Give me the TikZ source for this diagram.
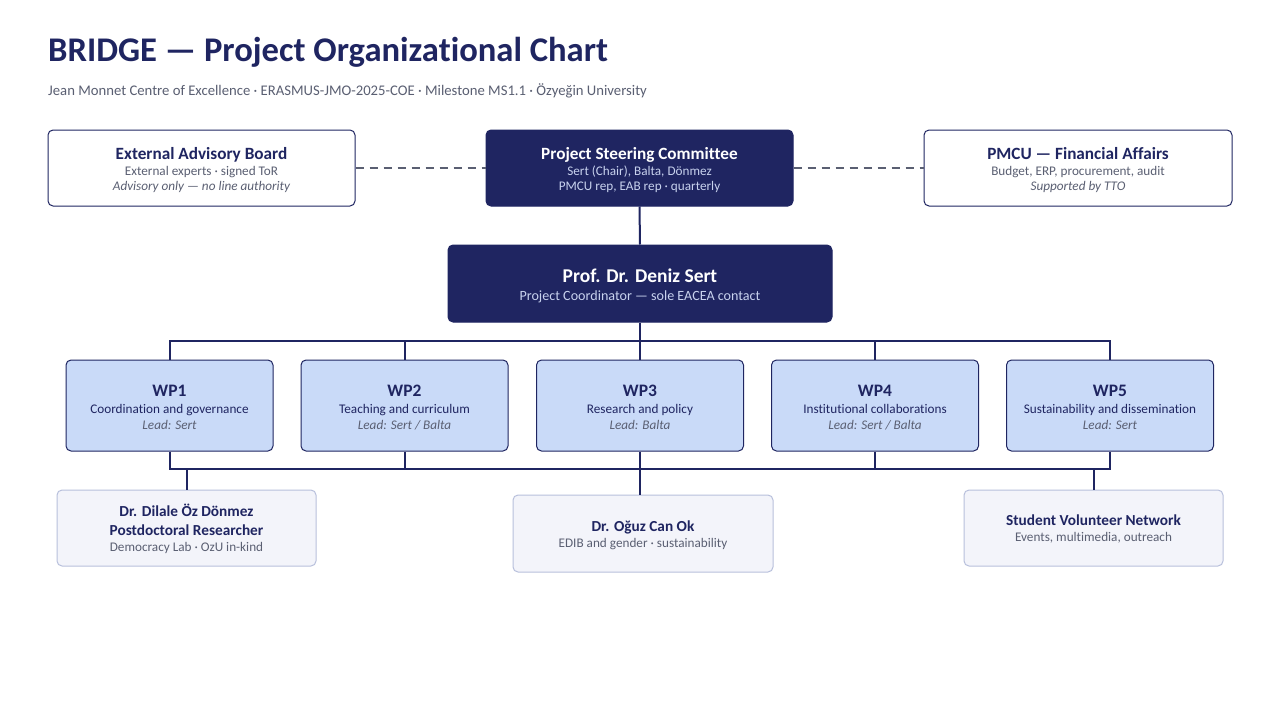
\documentclass[tikz,border=0pt]{standalone}
\usepackage{fontspec}
\setmainfont{Carlito}[Ligatures=NoCommon]
\usetikzlibrary{calc}
\definecolor{navy}{HTML}{1F2561}
\definecolor{wpfill}{HTML}{C9DAF8}
\definecolor{stafffill}{HTML}{F3F4FA}
\definecolor{staffline}{HTML}{B8C0DC}
\definecolor{subgray}{HTML}{5A5F72}
\definecolor{paletext}{HTML}{C8D2EE}
\tikzset{
  box/.style={rectangle, rounded corners=5pt, line width=1pt, inner sep=0pt},
  outerbox/.style={box, draw=navy, fill=white, minimum width=307pt, minimum height=76pt},
  navybox/.style={box, draw=navy, fill=navy},
  wpbox/.style={box, draw=navy, fill=wpfill, minimum width=207pt, minimum height=91pt},
  staffbox/.style={box, draw=staffline, fill=stafffill, minimum width=259pt, minimum height=76pt},
  txt/.style={inner sep=0pt, anchor=base},
  ttl/.style={txt, text=navy, font=\fontsize{17.2}{20}\selectfont\bfseries},
  sub/.style={txt, text=subgray, font=\fontsize{13.2}{16}\selectfont},
  subi/.style={txt, text=subgray, font=\fontsize{13.2}{16}\selectfont\itshape},
  stafft/.style={ttl, font=\fontsize{15.3}{18}\selectfont\bfseries},
  conn/.style={draw=navy, line width=2pt},
  dashconn/.style={draw=subgray, line width=2pt, dash pattern=on 8pt off 6pt},
}
\begin{document}
\begin{tikzpicture}[x=1pt,y=-1pt]
\useasboundingbox[fill=white] (0,0) rectangle (1280,720);
% title
\node[inner sep=0pt, anchor=base west, text=navy, font=\fontsize{34.6}{40}\selectfont\bfseries] (title) at (48,61) {BRIDGE — Project Organizational Chart};
\node[inner sep=0pt, anchor=base west, text=subgray, font=\fontsize{14.7}{18}\selectfont] (subtitle) at (48,95) {Jean Monnet Centre of Excellence · ERASMUS-JMO-2025-COE · Milestone MS1.1 · Özyeğin University};
% top row
\node[outerbox] (eab) at (201.5,168) {};
\node[ttl] (eabT) at (201.5,159) {External Advisory Board};
\node[sub] (eabS) at (201.5,175.5) {External experts · signed ToR};
\node[subi] (eabI) at (201.5,190.5) {Advisory only — no line authority};

\node[navybox, minimum width=307pt, minimum height=76pt] (psc) at (639.5,168) {};
\node[ttl, text=white] (pscT) at (639.5,159) {Project Steering Committee};
\node[sub, text=paletext] (pscS) at (639.5,175.5) {Sert (Chair), Balta, Dönmez};
\node[sub, text=paletext] (pscS2) at (639.5,190.5) {PMCU rep, EAB rep · quarterly};

\node[outerbox, minimum width=308pt] (pmcu) at (1078,168) {};
\node[ttl] (pmcuT) at (1078,159) {PMCU — Financial Affairs};
\node[sub] (pmcuS) at (1078,175.5) {Budget, ERP, procurement, audit};
\node[subi] (pmcuI) at (1078,190.5) {Supported by TTO};

% coordinator
\node[navybox, minimum width=384pt, minimum height=77pt] (coord) at (640,283.5) {};
\node[txt, text=white, font=\fontsize{19.5}{23}\selectfont\bfseries] (coordT) at (640,282.5) {Prof. Dr. Deniz Sert};
\node[txt, text=paletext, font=\fontsize{14.1}{17}\selectfont] (coordS) at (640,300) {Project Coordinator — sole EACEA contact};

% work packages
\node[wpbox] (wp1) at (169.5,405.5) {};
\node[wpbox] (wp2) at (404.5,405.5) {};
\node[wpbox] (wp3) at (640,405.5) {};
\node[wpbox] (wp4) at (875,405.5) {};
\node[wpbox] (wp5) at (1110,405.5) {};
\foreach \n/\t/\d/\l in {wp1/WP1/{Coordination and governance}/{Lead: Sert},
                         wp2/WP2/{Teaching and curriculum}/{Lead: Sert / Balta},
                         wp3/WP3/{Research and policy}/{Lead: Balta},
                         wp4/WP4/{Institutional collaborations}/{Lead: Sert / Balta},
                         wp5/WP5/{Sustainability and dissemination}/{Lead: Sert}}{
  \node[ttl, font=\fontsize{17.5}{21}\selectfont\bfseries] (\n T) at ($(\n.center)+(0,-9.5)$) {\t};
  \node[txt, text=navy, font=\fontsize{13.2}{16}\selectfont] (\n D) at ($(\n.center)+(0,8)$) {\d};
  \node[subi] (\n L) at ($(\n.center)+(0,24)$) {\l};
}

% staff
\node[staffbox] (dil) at (186.5,528) {};
\node[stafft] (dilT) at (186.5,516) {Dr. Dilale Öz Dönmez};
\node[stafft] (dilT2) at (186.5,535) {Postdoctoral Researcher};
\node[sub] (dilS) at (186.5,551) {Democracy Lab · OzU in-kind};

\node[staffbox, minimum width=260pt, minimum height=77pt] (oguz) at (643,533.5) {};
\node[stafft] (oguzT) at (643,531) {Dr. Oğuz Can Ok};
\node[sub] (oguzS) at (643,547) {EDIB and gender · sustainability};

\node[staffbox] (svn) at (1093.5,528) {};
\node[stafft] (svnT) at (1093.5,525) {Student Volunteer Network};
\node[sub] (svnS) at (1093.5,541) {Events, multimedia, outreach};

% connectors
\draw[dashconn] (eab.east) -- (psc.west);
\draw[dashconn] (psc.east) -- (pmcu.west);
\draw[conn] (psc.south) -- (coord.north);
\coordinate (busTop) at (640,341);
\coordinate (busBot) at (640,469);
\draw[conn] (coord.south) -- (busTop);
\draw[conn] (wp1.north) -- (wp1.north |- busTop) -- (wp5.north |- busTop) -- (wp5.north);
\foreach \n in {wp2,wp3,wp4}{\draw[conn] (\n.north) -- (\n.north |- busTop);}
\draw[conn] (wp1.south) -- (wp1.south |- busBot) -- (wp5.south |- busBot) -- (wp5.south);
\foreach \n in {wp2,wp3,wp4}{\draw[conn] (\n.south) -- (\n.south |- busBot);}
\draw[conn] (dil.north |- busBot) -- (dil.north);
\draw[conn] (wp3.south |- busBot) -- (wp3.south |- oguz.north);
\draw[conn] (svn.north |- busBot) -- (svn.north);
\end{tikzpicture}
\end{document}
